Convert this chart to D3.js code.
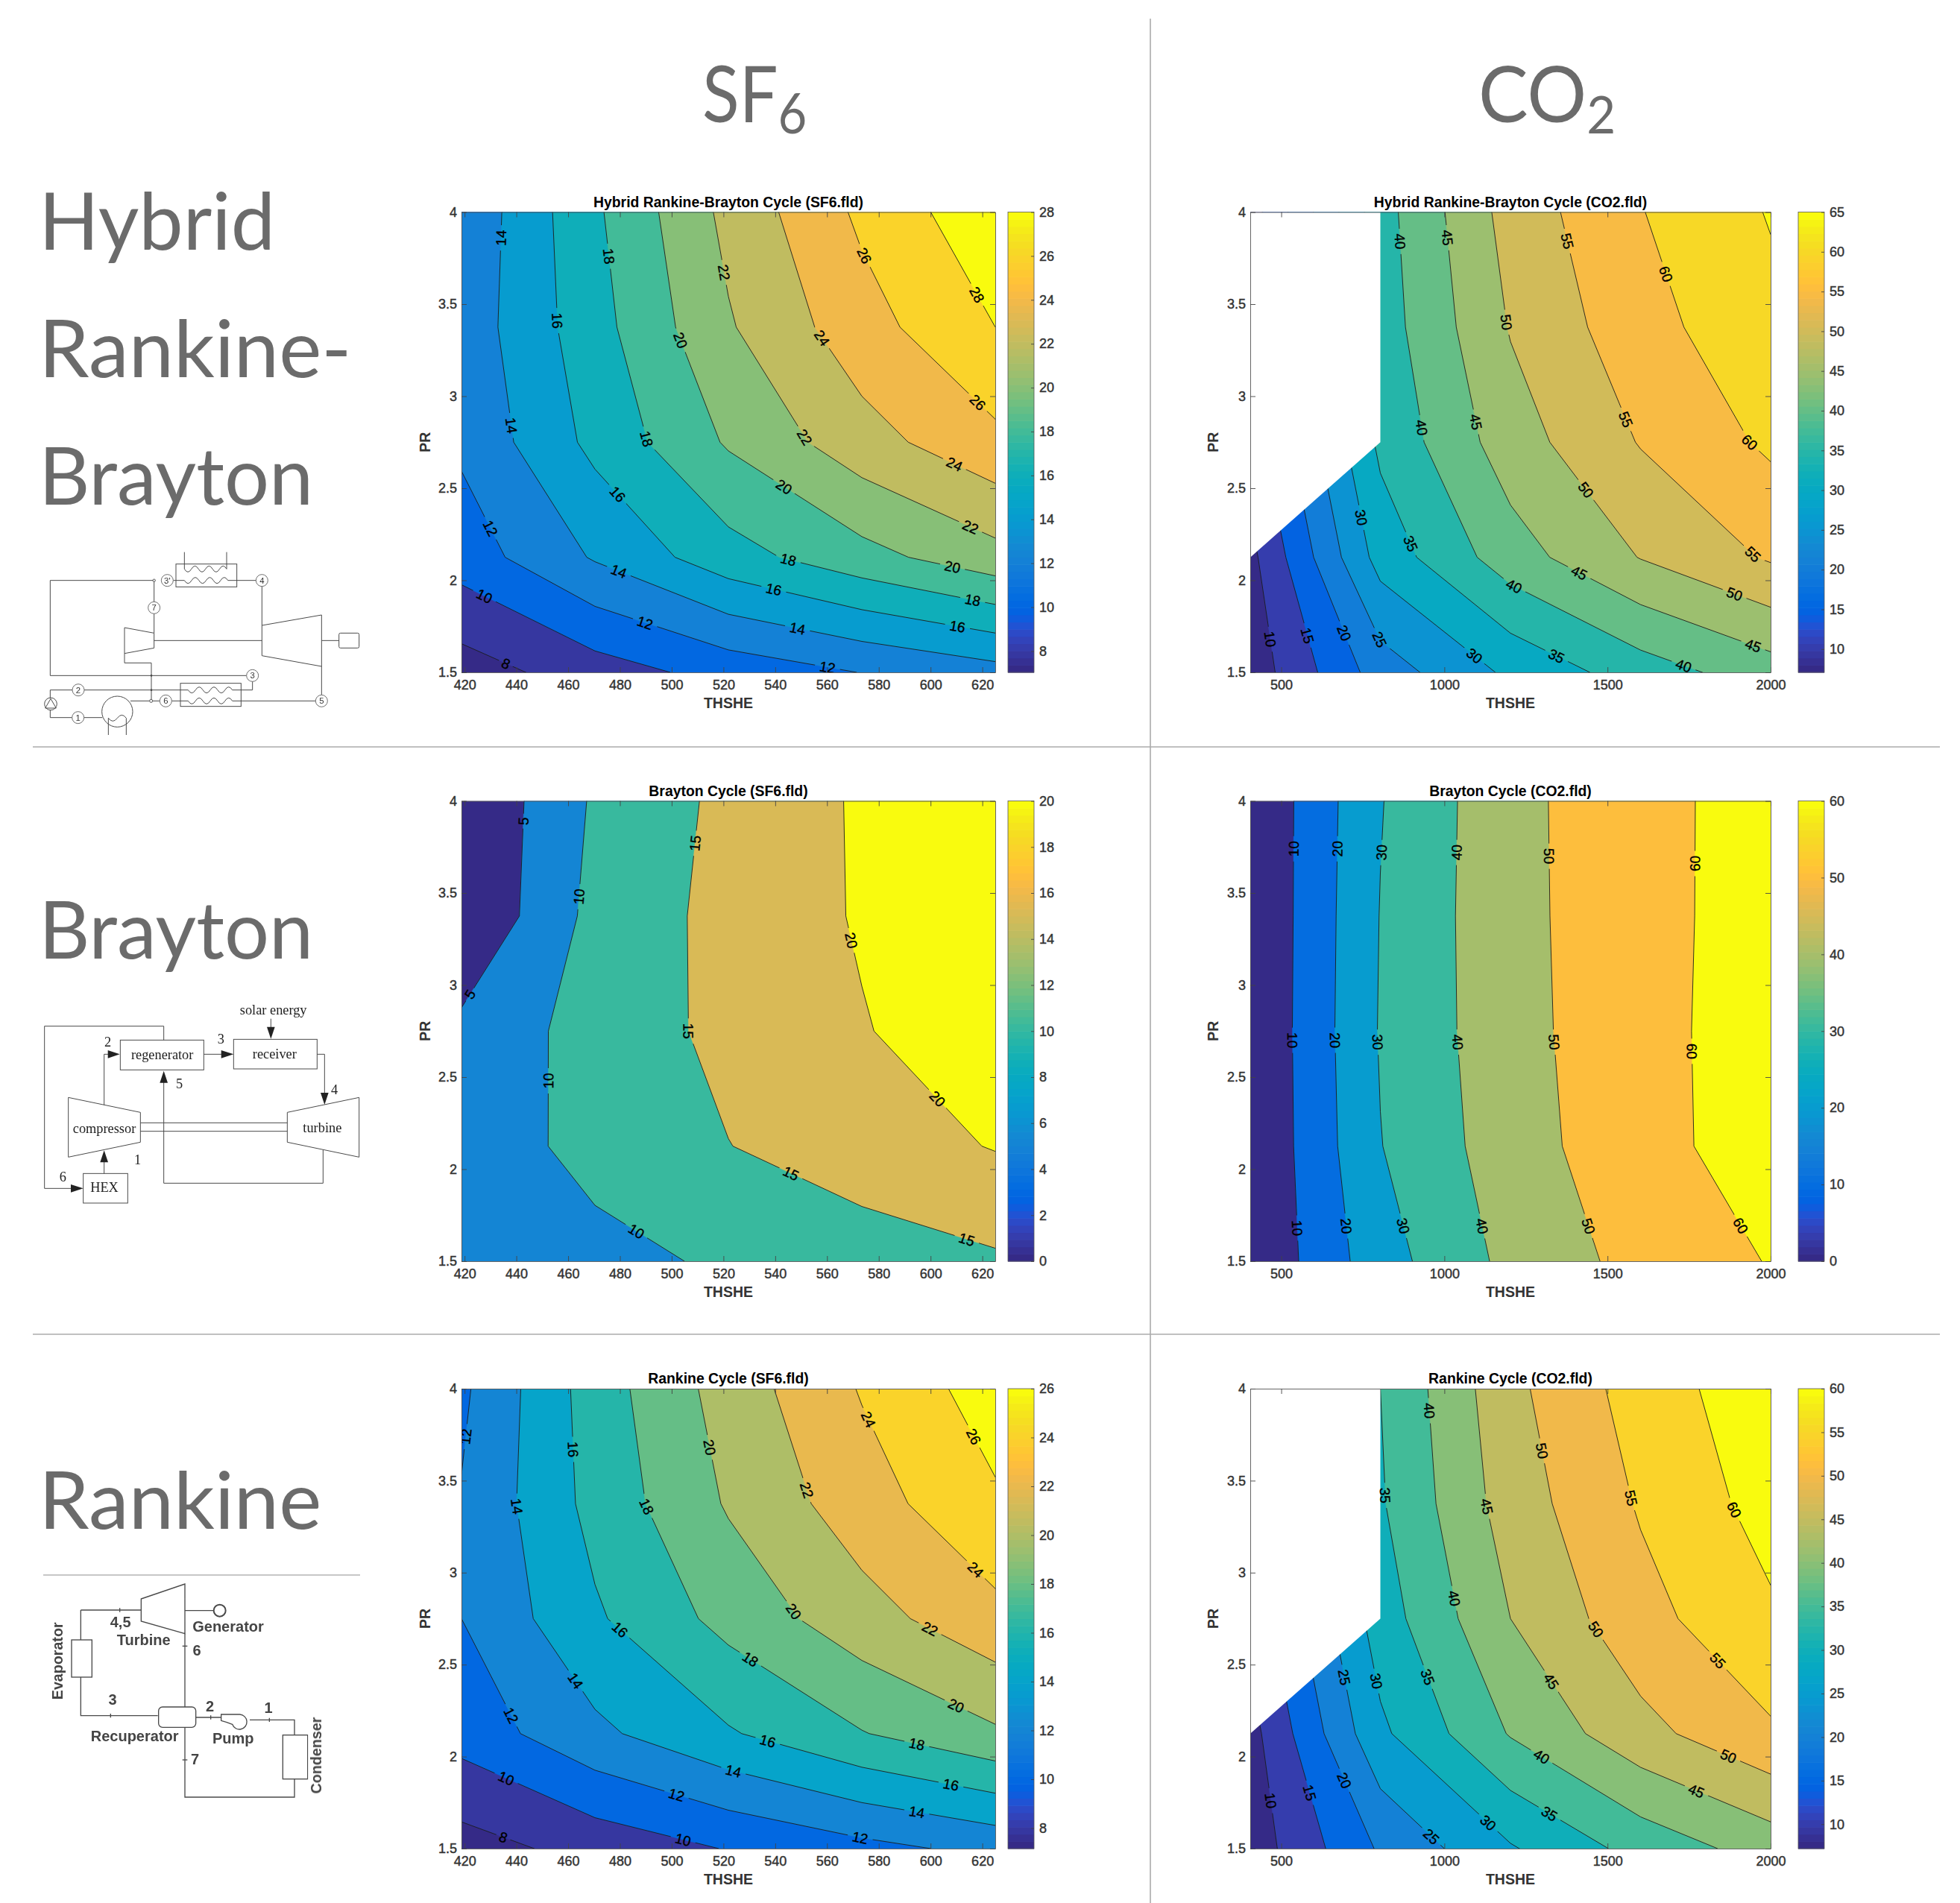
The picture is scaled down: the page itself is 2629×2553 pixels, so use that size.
<!DOCTYPE html>
<html>
<head>
<meta charset="utf-8">
<title>Rankine and Brayton cycle contour maps</title>
<script src="https://cdn.jsdelivr.net/npm/d3@7"></script>
<style>
    html, body { margin: 0; padding: 0; background: #fff; }
    svg { display: block; }
</style>
</head>
<body>
<div id="chart"></div>
<script>
// grid of the contour data: 5 columns of THSHE, 5 rows of PR (rows go from PR 1.5 up to PR 4)
const prGrid = [1.5, 2.125, 2.75, 3.375, 4];
const thsheSf6 = [418.8, 470.3, 521.9, 573.4, 625];
const thsheCo2 = [405, 803.75, 1202.5, 1601.25, 2000];

const thsheTicksSf6 = [420, 440, 460, 480, 500, 520, 540, 560, 580, 600, 620];
const thsheTicksCo2 = [500, 1000, 1500, 2000];
const prTicks = [1.5, 2, 2.5, 3, 3.5, 4];

// values, null = no data (white corner of the CO2 plots)
const hybridSf6 = [
    [7.03, 9.04, 10.74, 12.05, 13.25],
    [10.93, 14.2, 17.2, 19.3, 21.3],
    [12.36, 16.55, 20.23, 23.2, 25.5],
    [12.78, 17.25, 21.8, 25.2, 28.0],
    [12.41, 17.67, 22.55, 26.4, 29.5]
];
const hybridCo2 = [
    [7.07, 22.37, 31.0, 37.55, 42.7],
    [8.6, 32.0, 42.75, 50.2, 55.6],
    [null, 36.1, 47.7, 55.3, 60.9],
    [null, 37.53, 50.33, 58.2, 63.6],
    [null, 38.08, 52.0, 59.8, 65.34]
];
const braytonSf6 = [
    [6.0, 8.47, 10.75, 12.65, 14.33],
    [7.0, 11.62, 14.91, 17.59, 20.27],
    [6.27, 12.0, 16.28, 19.7, 23.0],
    [0, 11.52, 16.55, 20.47, 24.0],
    [0, 10.66, 16.2, 20.6, 25.0]
];
const braytonCo2 = [
    [0.6, 25.85, 42.7, 53.3, 60.5],
    [0.15, 29.7, 45.5, 56.8, 64.6],
    [0.1, 30.7, 46.5, 57.1, 64.5],
    [0, 30.3, 47.1, 56.65, 64.7],
    [0.2, 29.5, 47.2, 56.8, 64.4]
];
const rankineSf6 = [
    [7.16, 8.7, 10.1, 11.4, 12.56],
    [10.78, 13.54, 15.79, 17.9, 19.7],
    [12.0, 15.72, 18.66, 21.2, 23.4],
    [12.13, 16.66, 20.2, 23.1, 25.7],
    [11.62, 16.98, 20.88, 24.15, 27.0]
];
const rankineCo2 = [
    [7.2, 20.65, 29.5, 36.8, 42.2],
    [8.2, 29.0, 40.37, 48.4, 54.25],
    [null, 32.56, 45.0, 53.3, 59.2],
    [null, 34.47, 47.4, 55.5, 61.95],
    [null, 35.0, 48.7, 57.3, 63.3]
];

// contour levels
const levelsHybridSf6 = [8, 10, 12, 14, 16, 18, 20, 22, 24, 26, 28];
const levelsHybridCo2 = [10, 15, 20, 25, 30, 35, 40, 45, 50, 55, 60, 65];
const levelsBraytonSf6 = [5, 10, 15, 20];
const levelsBraytonCo2 = [10, 20, 30, 40, 50, 60];
const levelsRankineSf6 = [8, 10, 12, 14, 16, 18, 20, 22, 24, 26];
const levelsRankineCo2 = [10, 15, 20, 25, 30, 35, 40, 45, 50, 55, 60];

// colorbar tick labels
const barTicksHybridSf6 = [8, 10, 12, 14, 16, 18, 20, 22, 24, 26, 28];
const barTicksHybridCo2 = [10, 15, 20, 25, 30, 35, 40, 45, 50, 55, 60, 65];
const barTicksBraytonSf6 = [0, 2, 4, 6, 8, 10, 12, 14, 16, 18, 20];
const barTicksBraytonCo2 = [0, 10, 20, 30, 40, 50, 60];
const barTicksRankineSf6 = [8, 10, 12, 14, 16, 18, 20, 22, 24, 26];
const barTicksRankineCo2 = [10, 15, 20, 25, 30, 35, 40, 45, 50, 55, 60];

// inline contour labels: [level, THSHE, PR]
const labelsHybridSf6 = [
    [14, 433.7, 3.86], [18, 475.5, 3.76], [22, 519.3, 3.67], [26, 574, 3.76], [28, 617.8, 3.55],
    [16, 455.3, 3.41], [20, 502.8, 3.30], [24, 557.4, 3.31], [14, 437.7, 2.84], [18, 490.7, 2.77],
    [22, 551.6, 2.78], [26, 617.8, 2.96], [24, 609.2, 2.63], [16, 479.3, 2.47], [20, 543, 2.50],
    [22, 615.4, 2.29], [12, 429.6, 2.28], [18, 545, 2.11], [20, 608.4, 2.07], [14, 479.6, 2.05],
    [16, 539.4, 1.95], [18, 616.2, 1.89], [10, 427.5, 1.91], [12, 489.7, 1.77], [14, 548.6, 1.74],
    [16, 610.4, 1.75], [8, 436, 1.55], [12, 560.2, 1.53]
];
const labelsHybridCo2 = [
    [40, 858, 3.84], [45, 1006.6, 3.86], [55, 1371, 3.84], [60, 1673, 3.66], [50, 1184, 3.40],
    [40, 932, 2.83], [45, 1096, 2.86], [55, 1551, 2.87], [60, 1936, 2.75], [50, 1433, 2.49],
    [30, 744, 2.34], [35, 898, 2.20], [55, 1945, 2.14], [45, 1413, 2.04], [40, 1214, 1.97],
    [50, 1888, 1.92], [10, 466, 1.68], [15, 580, 1.70], [20, 688, 1.71], [25, 803, 1.68],
    [30, 1092, 1.59], [35, 1344, 1.59], [40, 1732, 1.53], [45, 1945, 1.64]
];
const labelsBraytonSf6 = [
    [5, 443.2, 3.89], [15, 509, 3.77], [10, 464.2, 3.48], [20, 568.7, 3.24], [5, 422, 2.95],
    [15, 506.4, 2.75], [10, 452, 2.48], [20, 602.5, 2.38], [15, 545.8, 1.97], [10, 486.2, 1.66],
    [15, 614, 1.62]
];
const labelsBraytonCo2 = [
    [10, 534, 3.74], [20, 669, 3.74], [30, 804, 3.72], [40, 1037, 3.72], [50, 1316, 3.70], [60, 1765, 3.66],
    [10, 531, 2.70], [20, 661, 2.70], [30, 793, 2.69], [40, 1039, 2.69], [50, 1337, 2.69], [60, 1756, 2.64],
    [10, 543, 1.68], [20, 694, 1.69], [30, 869, 1.69], [40, 1114, 1.69], [50, 1440, 1.69], [60, 1905, 1.69]
];
const labelsRankineSf6 = [
    [12, 420.3, 3.74], [16, 461.7, 3.67], [20, 514.4, 3.68], [24, 575.6, 3.83], [26, 616.7, 3.74],
    [22, 552.5, 3.45], [14, 439.9, 3.36], [18, 490.4, 3.36], [24, 617, 3.01], [20, 547.2, 2.79],
    [16, 480, 2.69], [22, 599.6, 2.69], [18, 530.4, 2.53], [14, 462.7, 2.41], [20, 609.6, 2.27],
    [12, 437.4, 2.22], [16, 537, 2.08], [18, 594.7, 2.07], [14, 523.8, 1.92], [10, 436, 1.88],
    [16, 607.9, 1.85], [12, 502, 1.80], [14, 594.7, 1.70], [8, 434.9, 1.56], [10, 504.4, 1.55],
    [12, 572.8, 1.56]
];
const labelsRankineCo2 = [
    [40, 951, 3.88], [50, 1293, 3.66], [35, 820, 3.42], [55, 1560, 3.40], [45, 1131, 3.36],
    [60, 1886, 3.34], [40, 1029, 2.86], [50, 1463, 2.69], [55, 1837, 2.52], [25, 689, 2.43],
    [30, 790, 2.41], [35, 945, 2.43], [45, 1328, 2.41], [50, 1870, 2.00], [40, 1298, 2.00],
    [20, 692, 1.87], [45, 1774, 1.82], [15, 580, 1.80], [10, 465, 1.76], [35, 1322, 1.69],
    [30, 1134, 1.64], [25, 957, 1.56]
];

// MATLAB parula colormap
const parula = [
    [.2081,.1663,.5292],[.2116,.1898,.5777],[.2123,.2138,.6270],[.2081,.2386,.6771],
    [.1959,.2645,.7279],[.1707,.2919,.7792],[.1253,.3242,.8303],[.0591,.3598,.8683],
    [.0117,.3875,.8820],[.0060,.4086,.8828],[.0165,.4266,.8786],[.0329,.4430,.8720],
    [.0498,.4586,.8641],[.0629,.4737,.8554],[.0723,.4887,.8467],[.0779,.5040,.8384],
    [.0793,.5200,.8312],[.0749,.5375,.8263],[.0641,.5570,.8240],[.0488,.5772,.8228],
    [.0343,.5966,.8199],[.0265,.6137,.8135],[.0239,.6287,.8038],[.0231,.6418,.7913],
    [.0228,.6535,.7768],[.0267,.6642,.7607],[.0384,.6743,.7436],[.0590,.6838,.7254],
    [.0843,.6928,.7062],[.1133,.7015,.6859],[.1453,.7098,.6646],[.1801,.7177,.6424],
    [.2178,.7250,.6193],[.2586,.7317,.5954],[.3022,.7376,.5712],[.3482,.7424,.5473],
    [.3953,.7459,.5244],[.4420,.7481,.5033],[.4871,.7491,.4840],[.5300,.7491,.4661],
    [.5709,.7485,.4494],[.6099,.7473,.4337],[.6473,.7456,.4188],[.6834,.7435,.4044],
    [.7184,.7411,.3905],[.7525,.7384,.3768],[.7858,.7356,.3633],[.8185,.7327,.3498],
    [.8507,.7299,.3360],[.8824,.7274,.3217],[.9139,.7258,.3063],[.9450,.7261,.2886],
    [.9739,.7314,.2666],[.9938,.7455,.2403],[.9990,.7653,.2164],[.9955,.7861,.1967],
    [.9880,.8066,.1794],[.9789,.8271,.1633],[.9697,.8481,.1475],[.9626,.8705,.1309],
    [.9589,.8949,.1132],[.9598,.9218,.0948],[.9661,.9514,.0755],[.9763,.9831,.0538]
].map(c => d3.rgb(c[0] * 255, c[1] * 255, c[2] * 255).formatHex());

// page layout
const pageW = 2629, pageH = 2553;
const columns = {
    sf6: { left: 619, right: 1335, barLeft: 1352, barRight: 1387, thshe: thsheSf6, ticks: thsheTicksSf6, yLabel: 570 },
    co2: { left: 1677, right: 2375, barLeft: 2412, barRight: 2447, thshe: thsheCo2, ticks: thsheTicksCo2, yLabel: 1627 }
};
const rows = {
    hybrid: { top: 284.5, bottom: 902 },
    brayton: { top: 1074.5, bottom: 1692 },
    rankine: { top: 1863, bottom: 2480 }
};

const panels = [
    { title: "Hybrid Rankine-Brayton Cycle (SF6.fld)", col: columns.sf6, row: rows.hybrid, grid: hybridSf6, levels: levelsHybridSf6, barTicks: barTicksHybridSf6, labels: labelsHybridSf6 },
    { title: "Hybrid Rankine-Brayton Cycle (CO2.fld)", col: columns.co2, row: rows.hybrid, grid: hybridCo2, levels: levelsHybridCo2, barTicks: barTicksHybridCo2, labels: labelsHybridCo2 },
    { title: "Brayton Cycle (SF6.fld)", col: columns.sf6, row: rows.brayton, grid: braytonSf6, levels: levelsBraytonSf6, barTicks: barTicksBraytonSf6, labels: labelsBraytonSf6 },
    { title: "Brayton Cycle (CO2.fld)", col: columns.co2, row: rows.brayton, grid: braytonCo2, levels: levelsBraytonCo2, barTicks: barTicksBraytonCo2, labels: labelsBraytonCo2 },
    { title: "Rankine Cycle (SF6.fld)", col: columns.sf6, row: rows.rankine, grid: rankineSf6, levels: levelsRankineSf6, barTicks: barTicksRankineSf6, labels: labelsRankineSf6 },
    { title: "Rankine Cycle (CO2.fld)", col: columns.co2, row: rows.rankine, grid: rankineCo2, levels: levelsRankineCo2, barTicks: barTicksRankineCo2, labels: labelsRankineCo2 }
];

const axisFont = '"Liberation Sans", Arial, sans-serif';
const headFont = 'Lato, "Open Sans", sans-serif';
const serifFont = '"Liberation Serif", serif';

const svg = d3.select("#chart").append("svg")
    .attr("width", pageW)
    .attr("height", pageH)
    .attr("viewBox", `0 0 ${pageW} ${pageH}`);

svg.append("rect").attr("width", pageW).attr("height", pageH).attr("fill", "#fff");

const defs = svg.append("defs");

// the sketches are soft in the reference
defs.append("filter").attr("id", "soft").append("feGaussianBlur").attr("stdDeviation", 1.4);
defs.append("filter").attr("id", "softer").append("feGaussianBlur").attr("stdDeviation", 2.2);

// Big headings and separator lines
function heading(x, y, text, size, sx) {
    return svg.append("text")
        .attr("transform", `translate(${x},${y}) scale(${sx},1)`)
        .attr("font-family", headFont)
        .attr("font-size", size)
        .attr("fill", "#6b6b6b")
        .text(text);
}

heading(942, 164, "SF", 104, 0.88).append("tspan").attr("font-size", 76).attr("dy", 15).text("6");
heading(1983, 164, "CO", 104, 0.96).append("tspan").attr("font-size", 70).attr("dy", 15).text("2");
heading(52, 335, "Hybrid", 106, 1);
heading(52, 506, "Rankine-", 106, 1.02);
heading(52, 677, "Brayton", 106, 1);
heading(52, 1286, "Brayton", 106, 1);
heading(52, 2051, "Rankine", 106, 1.02);

const separators = [
    [1543, 25, 1543, 2553],
    [44, 1002, 2602, 1002],
    [44, 1790, 2602, 1790]
];
svg.selectAll("line.sep").data(separators).enter().append("line")
    .attr("class", "sep")
    .attr("x1", d => d[0]).attr("y1", d => d[1])
    .attr("x2", d => d[2]).attr("y2", d => d[3])
    .attr("stroke", "#ababab").attr("stroke-width", 1.6);

svg.append("line")
    .attr("x1", 58).attr("y1", 2113).attr("x2", 483).attr("y2", 2113)
    .attr("stroke", "#b5b5b5").attr("stroke-width", 1.4);

// Draw one contour panel
function drawPanel(p, idx) {
    const left = p.col.left, right = p.col.right, top = p.row.top, bottom = p.row.bottom;
    const xs = p.col.thshe;

    const xScale = d3.scaleLinear().domain([xs[0], xs[4]]).range([left, right]);
    const yScale = d3.scaleLinear().domain([1.5, 4]).range([bottom, top]);

    // d3.contours puts value i at coordinate i + 0.5
    const gridX = d3.scaleLinear().domain([0.5, 4.5]).range([xs[0], xs[4]]);
    const gridY = d3.scaleLinear().domain([0.5, 4.5]).range([prGrid[0], prGrid[4]]);
    const px = a => xScale(gridX(a));
    const py = b => yScale(gridY(b));

    // missing cells get a stand-in so the contour is straight up to the white cut
    const firstNull = p.grid.findIndex(r => r[0] === null);
    const filled = p.grid.map(r => r.slice());
    if (firstNull >= 0) {
        const prev = filled[firstNull - 1], cur = filled[firstNull];
        const stand = prev[0] + cur[1] - prev[1];
        for (let r = firstNull; r < filled.length; r++) filled[r][0] = stand;
    }
    const flat = filled.flat();

    const cMin = d3.min(p.grid.flat().filter(v => v !== null));
    const cMax = p.levels[p.levels.length - 1];
    const color = d3.scaleQuantize().domain([cMin, cMax]).range(parula);

    const contours = d3.contours().size([5, 5]).thresholds(p.levels)(flat);
    const path = d3.geoPath(d3.geoTransform({
        point(a, b) { this.stream.point(px(a), py(b)); }
    }));

    const clipId = "clip" + idx, maskId = "gap" + idx;
    defs.append("clipPath").attr("id", clipId).append("rect")
        .attr("x", left).attr("y", top).attr("width", right - left).attr("height", bottom - top);

    const g = svg.append("g");
    const plot = g.append("g").attr("clip-path", `url(#${clipId})`);

    // filled bands, lowest first
    plot.append("rect")
        .attr("x", left).attr("y", top).attr("width", right - left).attr("height", bottom - top)
        .attr("fill", color(cMin));

    plot.selectAll("path.band").data(contours).enter().append("path")
        .attr("class", "band")
        .attr("d", path)
        .attr("fill", d => color(d.value))
        .attr("stroke", d => color(d.value))
        .attr("stroke-width", 0.4);

    // work out label places: snap to nearest contour segment, take its angle
    const placed = p.labels.map(l => {
        const c = contours.find(k => k.value === l[0]);
        const tx = xScale(l[1]), ty = yScale(l[2]);
        let best = null, bestD = Infinity;
        c.coordinates.forEach(poly => poly.forEach(ring => {
            for (let i = 0; i < ring.length - 1; i++) {
                const ax = px(ring[i][0]), ay = py(ring[i][1]);
                const bx = px(ring[i + 1][0]), by = py(ring[i + 1][1]);
                // skip the outer border of the contour polygon
                if ((ax < left - 0.5 && bx < left - 0.5) || (ax > right + 0.5 && bx > right + 0.5)) continue;
                if ((ay < top - 0.5 && by < top - 0.5) || (ay > bottom + 0.5 && by > bottom + 0.5)) continue;
                const dx = bx - ax, dy = by - ay;
                const len2 = dx * dx + dy * dy;
                if (len2 === 0) continue;
                const t = Math.max(0, Math.min(1, ((tx - ax) * dx + (ty - ay) * dy) / len2));
                const qx = ax + t * dx, qy = ay + t * dy;
                const dist = Math.hypot(tx - qx, ty - qy);
                if (dist < bestD) { bestD = dist; best = { x: qx, y: qy, dx, dy }; }
            }
        }));
        let angle = Math.atan2(best.dy, best.dx) * 180 / Math.PI;
        if (angle > 90) angle -= 180;
        if (angle <= -90) angle += 180;
        return { level: l[0], x: best.x, y: best.y, angle };
    });

    // contour lines with a gap under each label
    const mask = defs.append("mask").attr("id", maskId)
        .attr("maskUnits", "userSpaceOnUse")
        .attr("x", left - 5).attr("y", top - 5)
        .attr("width", right - left + 10).attr("height", bottom - top + 10);
    mask.append("rect")
        .attr("x", left - 5).attr("y", top - 5)
        .attr("width", right - left + 10).attr("height", bottom - top + 10)
        .attr("fill", "#fff");
    mask.selectAll("rect.hole").data(placed).enter().append("rect")
        .attr("class", "hole")
        .attr("x", d => d.level < 10 ? -10 : -17).attr("y", -10)
        .attr("width", d => d.level < 10 ? 20 : 34).attr("height", 20)
        .attr("transform", d => `translate(${d.x},${d.y}) rotate(${d.angle})`)
        .attr("fill", "#000");

    plot.append("g").attr("mask", `url(#${maskId})`)
        .selectAll("path").data(contours).enter().append("path")
        .attr("d", path)
        .attr("fill", "none")
        .attr("stroke", "#1c1c1c")
        .attr("stroke-width", 0.9);

    // white corner where there is no data
    if (firstNull >= 0) {
        const cut = [
            [xs[0], prGrid[4]], [xs[1], prGrid[4]],
            [xs[1], prGrid[firstNull]], [xs[0], prGrid[firstNull - 1]]
        ];
        plot.append("path")
            .attr("d", d3.line().x(d => xScale(d[0])).y(d => yScale(d[1]))(cut) + "Z")
            .attr("fill", "#fff");
    }

    // labels on the contours
    plot.selectAll("text.clabel").data(placed).enter().append("text")
        .attr("class", "clabel")
        .attr("transform", d => `translate(${d.x},${d.y}) rotate(${d.angle})`)
        .attr("text-anchor", "middle")
        .attr("dy", "0.36em")
        .attr("font-family", axisFont)
        .attr("font-size", 19)
        .attr("fill", "#000")
        .attr("stroke", "#000").attr("stroke-width", 0.35)
        .text(d => d.level);

    // Adding axes, ticks point inward like MATLAB
    const styleAxis = sel => {
        sel.select(".domain").attr("stroke", "#555").attr("stroke-width", 0.9);
        sel.selectAll(".tick line").attr("stroke", "#444").attr("stroke-width", 0.9);
        sel.selectAll("text")
            .attr("font-family", axisFont)
            .attr("font-size", 18)
            .attr("fill", "#333")
            .attr("stroke", "#333").attr("stroke-width", 0.45);
    };
    const xTickVals = p.col.ticks, yFmt = d => String(d);

    g.append("g").attr("transform", `translate(0,${bottom})`)
        .call(d3.axisBottom(xScale).tickValues(xTickVals).tickFormat(yFmt).tickSizeInner(-7).tickSizeOuter(0).tickPadding(10))
        .call(styleAxis);
    g.append("g").attr("transform", `translate(0,${top})`)
        .call(d3.axisTop(xScale).tickValues(xTickVals).tickFormat("").tickSizeInner(-7).tickSizeOuter(0))
        .call(styleAxis);
    g.append("g").attr("transform", `translate(${left},0)`)
        .call(d3.axisLeft(yScale).tickValues(prTicks).tickFormat(yFmt).tickSizeInner(-7).tickSizeOuter(0).tickPadding(6))
        .call(styleAxis);
    g.append("g").attr("transform", `translate(${right},0)`)
        .call(d3.axisRight(yScale).tickValues(prTicks).tickFormat("").tickSizeInner(-7).tickSizeOuter(0))
        .call(styleAxis);

    // Adding axes titles
    g.append("text")
        .attr("x", (left + right) / 2).attr("y", top - 7)
        .attr("text-anchor", "middle")
        .attr("font-family", axisFont).attr("font-size", 19.4).attr("font-weight", "bold")
        .attr("fill", "#000")
        .text(p.title);
    g.append("text")
        .attr("x", (left + right) / 2).attr("y", bottom + 48)
        .attr("text-anchor", "middle")
        .attr("font-family", axisFont).attr("font-size", 19.5).attr("font-weight", "bold")
        .attr("fill", "#333")
        .text("THSHE");
    g.append("text")
        .attr("transform", `translate(${p.col.yLabel + 7},${(top + bottom) / 2}) rotate(-90)`)
        .attr("text-anchor", "middle")
        .attr("font-family", axisFont).attr("font-size", 19.5).attr("font-weight", "bold")
        .attr("fill", "#333")
        .text("PR");

    // colorbar
    const barScale = d3.scaleLinear().domain([cMin, cMax]).range([bottom, top]);
    const barW = p.col.barRight - p.col.barLeft;
    const barG = g.append("g");
    barG.selectAll("rect").data(parula).enter().append("rect")
        .attr("x", p.col.barLeft)
        .attr("y", (d, i) => barScale(cMin + (i + 1) / 64 * (cMax - cMin)))
        .attr("width", barW)
        .attr("height", (bottom - top) / 64 + 0.6)
        .attr("fill", d => d);
    barG.append("rect")
        .attr("x", p.col.barLeft).attr("y", top).attr("width", barW).attr("height", bottom - top)
        .attr("fill", "none").attr("stroke", "#555").attr("stroke-width", 0.8);
    g.append("g").attr("transform", `translate(${p.col.barRight},0)`)
        .call(d3.axisRight(barScale).tickValues(p.barTicks).tickFormat(yFmt).tickSizeInner(-4).tickSizeOuter(0).tickPadding(7))
        .call(styleAxis)
        .select(".domain").remove();
}

panels.forEach(drawPanel);

// Cycle sketches on the left, drawn in 3x crop units
const ink = "#4a4a4a";

function sketch(ox, oy, filter) {
    const g = svg.append("g")
        .attr("transform", `translate(${ox},${oy}) scale(${1 / 3})`)
        .attr("fill", "none").attr("stroke", ink).attr("stroke-width", 3);
    if (filter) g.attr("filter", `url(#${filter})`);
    return g;
}
function wave(x0, x1, y, n, a) {
    const w = (x1 - x0) / n;
    let s = `M${x0},${y}`;
    for (let i = 0; i < n; i++) {
        const sign = i % 2 === 0 ? 1 : -1;
        s += ` Q${x0 + w * i + w / 2},${y + sign * a * 2} ${x0 + w * (i + 1)},${y}`;
    }
    return s;
}

// hybrid cycle
const s1 = sketch(40, 730, "soft");
[
    "M500,146 H82 V529 H872", "M500,146 V232", "M500,280 V358", "M578,146 H622", "M797,146 H910",
    "M622,32 V100", "M792,32 V100",
    "M381,336 L500,358 V418 L381,440 Z", "M500,388 H934",
    "M934,327 L1174,285 V492 L934,449 Z", "M934,170 V327", "M1174,388 H1244",
    "M381,440 V478 H489 V626", "M896,553 V587 H815", "M637,587 H219", "M172,587 H82 V620",
    "M82,668 V698 H170", "M218,698 H292", "M405,631 H482", "M495,631 H523", "M571,631 H637",
    "M815,631 H1150", "M1174,492 V607", "M316,768 V700", "M388,768 V700",
    "M62,660 L84,622 L106,660 Z",
    wave(622, 792, 100, 6, 12), wave(622, 797, 146, 6, 12),
    wave(637, 815, 587, 6, 12), wave(637, 815, 631, 6, 12), wave(316, 388, 700, 2, 12)
].forEach(d => s1.append("path").attr("d", d));
s1.append("rect").attr("x", 588).attr("y", 80).attr("width", 245).attr("height", 92);
s1.append("rect").attr("x", 606).attr("y", 560).attr("width", 244).attr("height", 93);
s1.append("rect").attr("x", 1244).attr("y", 358).attr("width", 81).attr("height", 60).attr("rx", 6);
s1.append("circle").attr("cx", 352).attr("cy", 674).attr("r", 62);
s1.append("circle").attr("cx", 84).attr("cy", 643).attr("r", 25);
s1.append("circle").attr("cx", 500).attr("cy", 146).attr("r", 5).attr("fill", "#fff");
s1.append("circle").attr("cx", 488).attr("cy", 631).attr("r", 6).attr("fill", "#fff");
s1.append("circle").attr("cx", 489).attr("cy", 529).attr("r", 3).attr("fill", ink);
s1.append("circle").attr("cx", 489).attr("cy", 587).attr("r", 3).attr("fill", ink);
const nodes1 = [["3'", 553, 146], ["4", 934, 146], ["7", 500, 256], ["3", 896, 529], ["2", 195, 587], ["6", 547, 631], ["5", 1174, 631], ["1", 194, 698]];
nodes1.forEach(n => {
    s1.append("circle").attr("cx", n[1]).attr("cy", n[2]).attr("r", 24).attr("fill", "#fff").attr("stroke-width", 2.4);
    s1.append("text").attr("x", n[1]).attr("y", n[2] + 12)
        .attr("text-anchor", "middle").attr("font-family", axisFont).attr("font-size", 34)
        .attr("fill", "#333").attr("stroke", "none").text(n[0]);
});

// brayton cycle
const s2 = sketch(40, 1320, "soft");
[
    "M155,457 L445,517 V637 L155,697 Z", "M1325,457 L1036,517 V637 L1325,697 Z",
    "M445,559 H1036", "M445,593 H1036",
    "M299,487 V283 H320", "M700,283 H775", "M1156,283 H1186 V445", "M970,140 V180",
    "M539,390 V802 H1180 V668", "M539,226 V170 H59 V823 H170", "M299,763 V715"
].forEach(d => s2.append("path").attr("d", d));
s2.append("rect").attr("x", 364).attr("y", 226).attr("width", 336).attr("height", 120);
s2.append("rect").attr("x", 820).attr("y", 223).attr("width", 336).attr("height", 119);
s2.append("rect").attr("x", 215).attr("y", 763).attr("width", 179).attr("height", 119);
const arrows2 = [
    "M362,283 L314,267 V299 Z", "M820,283 L770,267 V299 Z", "M1186,486 L1170,438 H1202 Z",
    "M970,221 L954,173 H986 Z", "M539,350 L523,398 H555 Z", "M215,823 L165,807 V839 Z", "M299,670 L283,718 H315 Z"
];
arrows2.forEach(d => s2.append("path").attr("d", d).attr("fill", "#222").attr("stroke", "none"));
const texts2 = [
    ["regenerator", 533, 302], ["receiver", 985, 299], ["solar energy", 980, 124],
    ["compressor", 300, 599], ["turbine", 1177, 597], ["HEX", 300, 838],
    ["2", 314, 252], ["3", 769, 240], ["5", 602, 419], ["4", 1226, 443], ["1", 434, 726], ["6", 133, 796]
];
texts2.forEach(t => s2.append("text")
    .attr("x", t[1]).attr("y", t[2])
    .attr("text-anchor", "middle").attr("font-family", serifFont).attr("font-size", 55)
    .attr("fill", "#222").attr("stroke", "none").text(t[0]));

// rankine cycle
const s3 = sketch(40, 2100, "softer");
[
    "M448,135 L624,75 V275 L448,225 Z", "M205,180 H448", "M205,180 V300", "M205,450 V605 H515",
    "M624,182 H740", "M624,275 V570", "M668,612 H770", "M885,622 H1065 V683",
    "M1065,860 V933 H624 V652", "M362,172 V188", "M614,325 H634", "M325,597 V613",
    "M728,604 V620", "M964,614 V630", "M614,783 H634"
].forEach(d => s3.append("path").attr("d", d).attr("stroke-width", 4));
s3.append("rect").attr("x", 168).attr("y", 300).attr("width", 82).attr("height", 150).attr("stroke-width", 4);
s3.append("rect").attr("x", 518).attr("y", 570).attr("width", 150).attr("height", 82).attr("rx", 16).attr("stroke-width", 4);
s3.append("rect").attr("x", 1018).attr("y", 683).attr("width", 100).attr("height", 177).attr("stroke-width", 4);
s3.append("circle").attr("cx", 764).attr("cy", 182).attr("r", 24).attr("stroke-width", 6);
s3.append("path").attr("d", "M770,600 H845 A30,30 0 1 1 815,640 Q790,630 770,625 Z").attr("stroke-width", 4);
const texts3 = [
    ["4,5", 365, 248, 0], ["Turbine", 458, 322, 0], ["Generator", 798, 266, 0], ["6", 672, 364, 0],
    ["3", 333, 560, 0], ["Recuperator", 422, 709, 0], ["2", 725, 588, 0], ["1", 960, 594, 0],
    ["Pump", 818, 716, 0], ["7", 665, 802, 0]
];
texts3.forEach(t => s3.append("text")
    .attr("x", t[1]).attr("y", t[2])
    .attr("text-anchor", "middle").attr("font-family", axisFont).attr("font-size", 60).attr("font-weight", "bold")
    .attr("fill", "#444").attr("stroke", "none").text(t[0]));
[["Evaporator", 133, 385], ["Condenser", 1173, 765]].forEach(t => s3.append("text")
    .attr("transform", `translate(${t[1]},${t[2]}) rotate(-90)`)
    .attr("text-anchor", "middle").attr("font-family", axisFont).attr("font-size", 59).attr("font-weight", "bold")
    .attr("fill", "#444").attr("stroke", "none").text(t[0]));
</script>
</body>
</html>
